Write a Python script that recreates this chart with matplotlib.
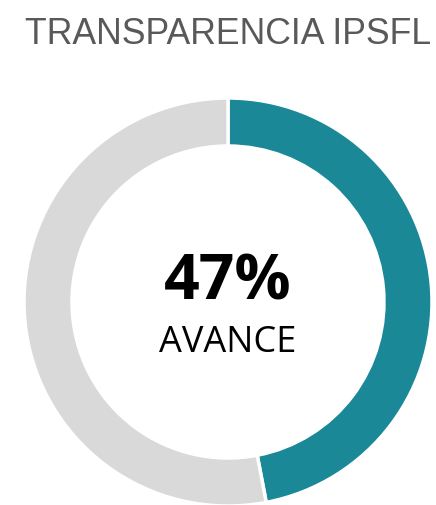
import matplotlib
matplotlib.use("Agg")
import matplotlib.pyplot as plt

title = "TRANSPARENCIA IPSFL"
labels = ["Avance", "Pendiente"]
values = [47, 53]
colors = ["#1a8896", "#d9d9d9"]
center_value = "47%"
center_label = "AVANCE"

fig = plt.figure(figsize=(4.36, 5.05), dpi=100)
ax = fig.add_axes([0, 0, 1, 1])

ax.pie(values, colors=colors, startangle=90, counterclock=False,
       center=(228, 203), radius=204,
       wedgeprops=dict(width=48, edgecolor="white", linewidth=2.5))
ax.set_xlim(0, 436)
ax.set_ylim(0, 505)
ax.set_aspect("equal")
ax.axis("off")

ax.text(228, 471, title, ha="center", va="center", fontsize=25.7,
        color="#595959", family="Liberation Sans")
ax.text(228, 222, center_value, ha="center", va="center", fontsize=45,
        fontweight="bold", color="black", family="Open Sans")
ax.text(228, 162, center_label, ha="center", va="center", fontsize=26,
        color="black", family="Open Sans")

fig.savefig("out.png", dpi=100)
